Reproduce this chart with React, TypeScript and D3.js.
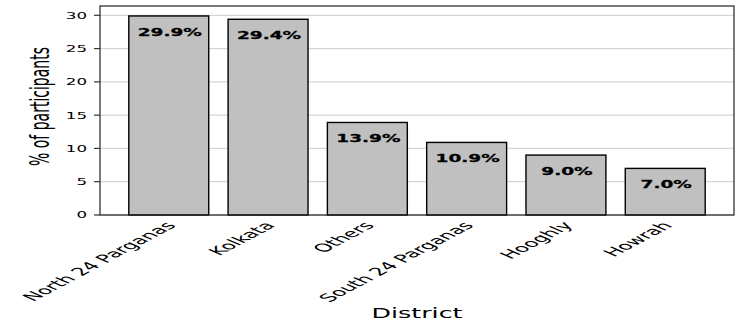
import * as d3 from "d3";

// district shares
const districts = ["North 24 Parganas", "Kolkata", "Others", "South 24 Parganas", "Hooghly", "Howrah"];
const shares = [29.9, 29.4, 13.9, 10.9, 9.0, 7.0];
const yTicks = [0, 5, 10, 15, 20, 25, 30];

const W = 748;
const H = 327;
const FONT = "DejaVu Sans";
const SX = 1.85; // the original image is stretched sideways, text too

export default function App() {
    const margin = { top: 6, right: 14, bottom: 112, left: 100 };
    const x = d3
        .scaleBand<string>()
        .domain(districts)
        .range([margin.left, W - margin.right])
        .paddingInner(0.195)
        .paddingOuter(0.29);
    const y = d3
        .scaleLinear()
        .domain([0, d3.max(shares)! * 1.05])
        .range([H - margin.bottom, margin.top]);

    const x0 = margin.left;
    const x1 = W - margin.right;
    const y0 = H - margin.bottom;

    return (
        <svg width={W} height={H} style={{ position: "absolute", left: 0, top: 0, background: "#fff" }}>
            {/* gridlines */}
            {yTicks.map(t => (
                <line key={"g" + t} x1={x0} x2={x1} y1={y(t)} y2={y(t)} stroke="#d6d6d6" strokeWidth={1.3} />
            ))}

            {/* bars */}
            {districts.map((d, i) => (
                <rect
                    key={d}
                    x={x(d)}
                    y={y(shares[i])}
                    width={x.bandwidth()}
                    height={y0 - y(shares[i])}
                    fill="#c0c0c0"
                    stroke="#000"
                    strokeWidth={1.4}
                />
            ))}

            {/* value labels */}
            {districts.map((d, i) => (
                <text
                    key={"v" + d}
                    transform={`translate(${x(d)! + x.bandwidth() / 2 + 1},${y(shares[i]) + 20}) scale(${SX},1)`}
                    textAnchor="middle"
                    fontFamily={FONT}
                    fontWeight="bold"
                    fontSize={10}
                    stroke="#000"
                    strokeWidth={0.25}
                    fill="#000"
                >
                    {shares[i].toFixed(1)}%
                </text>
            ))}

            {/* frame */}
            <rect x={x0} y={margin.top} width={x1 - x0} height={y0 - margin.top} fill="none" stroke="#222" strokeWidth={1.2} />

            {/* y ticks */}
            {yTicks.map(t => (
                <g key={"t" + t}>
                    <line x1={x0 - 6} x2={x0} y1={y(t)} y2={y(t)} stroke="#333" strokeWidth={1.2} />
                    <text
                        transform={`translate(${x0 - 13},${y(t) + 3.4}) scale(${SX},1)`}
                        textAnchor="end"
                        fontFamily={FONT}
                        fontSize={9}
                        fill="#000"
                    >
                        {t}
                    </text>
                </g>
            ))}

            {/* x tick labels */}
            {districts.map(d => (
                <text
                    key={"x" + d}
                    transform={`translate(${x(d)! + x.bandwidth() / 2 + 8},${y0 + 11}) scale(2.1,1) rotate(-48)`}
                    textAnchor="end"
                    fontFamily={FONT}
                    fontSize={11}
                    fill="#000"
                >
                    {d}
                </text>
            ))}

            {/* axis titles */}
            <text
                transform={`translate(${(x0 + x1) / 2},${H - 9.5}) scale(${SX},1)`}
                textAnchor="middle"
                fontFamily={FONT}
                fontSize={13.7}
                fill="#000"
            >
                District
            </text>
            <text
                transform={`translate(49,${(margin.top + y0) / 2 - 4}) scale(1.85,1) rotate(-90)`}
                textAnchor="middle"
                fontFamily={FONT}
                fontSize={14}
                fill="#000"
            >
                % of participants
            </text>
        </svg>
    );
}
